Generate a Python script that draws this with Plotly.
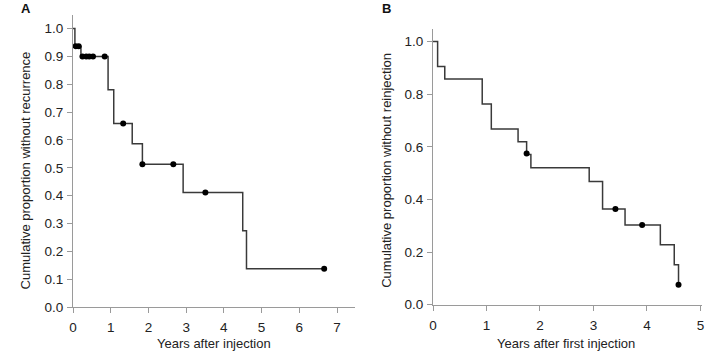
import plotly.graph_objects as go

# Panel A: recurrence-free
a_times = [0, 0.05, 0.21, 0.93, 1.08, 1.57, 1.84, 2.92, 4.50, 4.60, 6.66]
a_surv = [1.0, 0.937, 0.900, 0.780, 0.659, 0.586, 0.513, 0.411, 0.274, 0.137, 0.137]
a_cens_t = [0.07, 0.15, 0.25, 0.35, 0.43, 0.53, 0.84, 1.33, 1.84, 2.66, 3.51, 6.66]
a_cens_s = [0.937, 0.937, 0.900, 0.900, 0.900, 0.900, 0.900, 0.659, 0.513, 0.513, 0.411, 0.137]

# Panel B: reinjection-free
b_times = [0, 0.086, 0.22, 0.92, 1.09, 1.59, 1.75, 1.83, 2.92, 3.17, 3.59, 4.25, 4.51, 4.59]
b_surv = [1.0, 0.905, 0.857, 0.762, 0.667, 0.619, 0.571, 0.520, 0.468, 0.364, 0.303, 0.228, 0.152, 0.076]
b_cens_t = [1.75, 3.41, 3.91, 4.59]
b_cens_s = [0.574, 0.364, 0.303, 0.076]

a_xticks = [0, 1, 2, 3, 4, 5, 6, 7]
a_yticks = [0.0, 0.1, 0.2, 0.3, 0.4, 0.5, 0.6, 0.7, 0.8, 0.9, 1.0]
b_xticks = [0, 1, 2, 3, 4, 5]
b_yticks = [0.0, 0.2, 0.4, 0.6, 0.8, 1.0]

LINE = "#3a3a3a"
AX = "#9a9a9a"
FONT = "Liberation Sans, Arial, sans-serif"
FS = 13
TFS = 13.5

fig = go.Figure()
fig.add_trace(go.Scatter(x=a_times, y=a_surv, mode="lines", line=dict(shape="hv", color=LINE, width=1.5),
                         xaxis="x", yaxis="y", showlegend=False))
fig.add_trace(go.Scatter(x=a_cens_t, y=a_cens_s, mode="markers", marker=dict(color="black", size=6),
                         xaxis="x", yaxis="y", showlegend=False))
fig.add_trace(go.Scatter(x=b_times, y=b_surv, mode="lines", line=dict(shape="hv", color=LINE, width=1.5),
                         xaxis="x2", yaxis="y2", showlegend=False))
fig.add_trace(go.Scatter(x=b_cens_t, y=b_cens_s, mode="markers", marker=dict(color="black", size=6),
                         xaxis="x2", yaxis="y2", showlegend=False))

W, H = 707, 359

def ax_common(standoff):
    return dict(showgrid=False, zeroline=False, showline=True, linecolor=AX, linewidth=1,
                ticks="outside", ticklen=5, tickcolor=AX, tickwidth=1, ticklabelstandoff=standoff,
                ticklabeloverflow="allow",
                tickfont=dict(family=FONT, size=TFS, color="#222"), fixedrange=True)

def px(x):
    return x / W

def py(y):
    return (H - y) / H

def label(text, x, y, angle=0, bold=False, yanchor="middle"):
    t = f"<b>{text}</b>" if bold else text
    return dict(text=t, x=px(x), y=py(y), xref="paper", yref="paper", showarrow=False,
                textangle=angle, xanchor="center", yanchor=yanchor,
                font=dict(size=FS, family=FONT, color="#222" if not bold else "#111"))

fig.update_layout(
    width=W, height=H, margin=dict(l=0, r=0, t=0, b=0),
    paper_bgcolor="white", plot_bgcolor="white",
    font=dict(family=FONT, size=FS, color="#222"),
    xaxis=dict(domain=[px(69.7), px(355)], range=[0, 7.49], tickvals=a_xticks,
               anchor="y", **ax_common(3)),
    yaxis=dict(domain=[py(314), py(15)], range=[0, 1.05], tickvals=a_yticks,
               tickformat=".1f", anchor="x", **ax_common(1)),
    xaxis2=dict(domain=[px(433.3), px(704.5)], range=[0, 5.02], tickvals=b_xticks,
                anchor="y2", **ax_common(3)),
    yaxis2=dict(domain=[py(311.7), py(30)], range=[0, 1.046], tickvals=b_yticks,
                tickformat=".1f", anchor="x2", **ax_common(1)),
    annotations=[
        label("A", 22, -1, bold=True, yanchor="top"),
        label("B", 386, -1, bold=True, yanchor="top"),
        label("Years after injection", 212, 351.5),
        label("Years after first injection", 568, 351.5),
        label("Cumulative proportion without recurrence", 21.5, 174, angle=-90),
        label("Cumulative proportion without reinjection", 386, 174.5, angle=-90),
    ],
)

fig.write_html("out.html", config={"displayModeBar": False},
               post_script="document.body.style.margin='0';document.body.style.overflow='hidden';")
